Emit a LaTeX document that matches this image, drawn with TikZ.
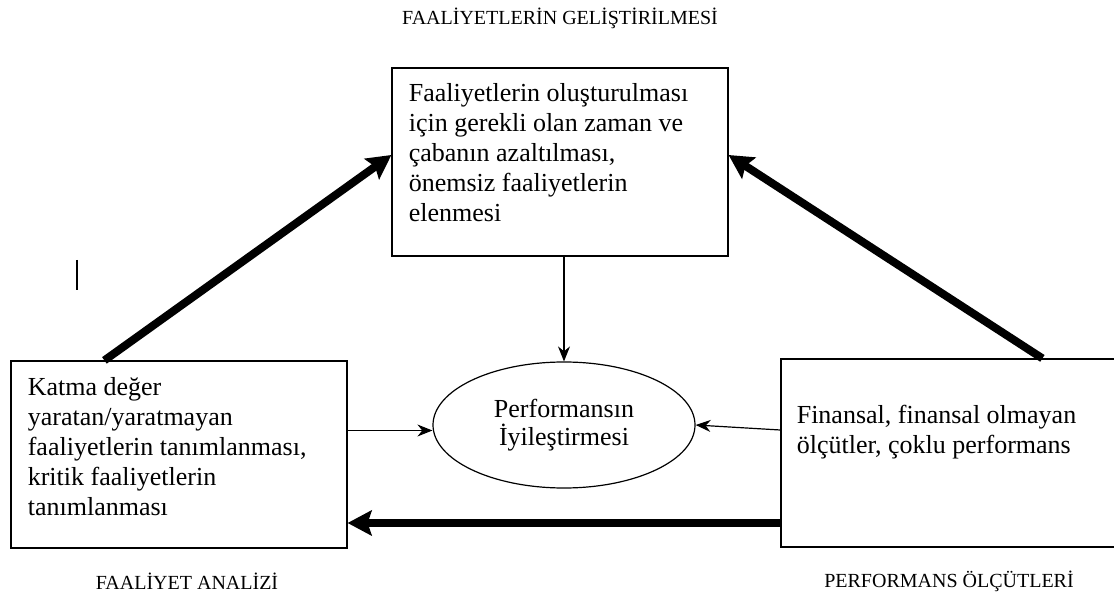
\documentclass[tikz,border=0pt]{standalone}
\usepackage{fontspec}
\setmainfont{Liberation Serif}
\usetikzlibrary{arrows.meta,shapes.geometric}
\tikzset{
	kutu/.style={draw, line width=0.6pt, inner sep=0pt},
	yazi/.style={inner sep=0pt, anchor=north west, align=left, font=\fontsize{13}{15}\selectfont},
	baslik/.style={inner sep=0pt, font=\fontsize{10}{12}\selectfont},
	ince/.style={line width=0.6pt, -{Stealth[length=7.5pt, width=6pt]}},
	kalin/.style={line width=4pt, -{Stealth[length=12pt, width=12.5pt, inset=2pt]}}
}

\begin{document}
\begin{tikzpicture}[x=0.5pt, y=0.5pt]
			%%%%% START %%%%%
			\useasboundingbox (0, 0) rectangle (1114, 595);
			
			\node[baslik] (bas) at (560, 577) {FAALİYETLERİN GELİŞTİRİLMESİ};
			\node[baslik] (anabas) at (187, 14) {FAALİYET ANALİZİ};
			\node[baslik] (olcbas) at (949, 14) {PERFORMANS ÖLÇÜTLERİ};
			
			\node[kutu, minimum width=168pt, minimum height=94pt] (gel) at (560, 433) {};
			\node[kutu, minimum width=168pt, minimum height=93.5pt] (ana) at (179, 140.5) {};
			\node[kutu, minimum width=168.5pt, minimum height=94pt] (olc) at (949.5, 142) {};
			\node[draw, ellipse, line width=0.6pt, inner sep=0pt, minimum width=131pt, minimum height=63pt, align=center, font=\fontsize{13}{14}\selectfont] (perf) at (564, 170) {Performansın\\İyileştirmesi};
			
			\node[yazi] (gelyazi) at ([xshift=8.5pt, yshift=-8pt]gel.north west) {Faaliyetlerin oluşturulması\\için gerekli olan zaman ve\\çabanın azaltılması,\\önemsiz faaliyetlerin\\elenmesi};
			\node[yazi] (anayazi) at ([xshift=8.5pt, yshift=-8.5pt]ana.north west) {Katma değer\\yaratan/yaratmayan\\faaliyetlerin tanımlanması,\\kritik faaliyetlerin\\tanımlanması};
			\node[yazi] (olcyazi) at ([xshift=8pt, yshift=-23pt]olc.north west) {Finansal, finansal olmayan\\ölçütler, çoklu performans};
			
			\draw[line width=1pt] (77, 335) -- (77, 305);
			
			\draw[ince] (gel.south -| perf.north) -- (perf.north);
			\draw[ince] ([yshift=12pt]ana.east) -- ([yshift=12pt]ana.east -| perf.west);
			\draw[ince] ([yshift=11.5pt]olc.west) -- (perf.east);
			
			\draw[kalin] ([xshift=47pt]ana.north west) -- ([yshift=3.5pt]gel.west);
			\draw[kalin] ([xshift=131pt]olc.north west) -- ([yshift=3.5pt]gel.east);
			\draw[kalin] ([yshift=-35pt]olc.west) -- ([yshift=-35pt]olc.west -| ana.east);
			
			%%%%% END %%%%%
\end{tikzpicture}
\end{document}
